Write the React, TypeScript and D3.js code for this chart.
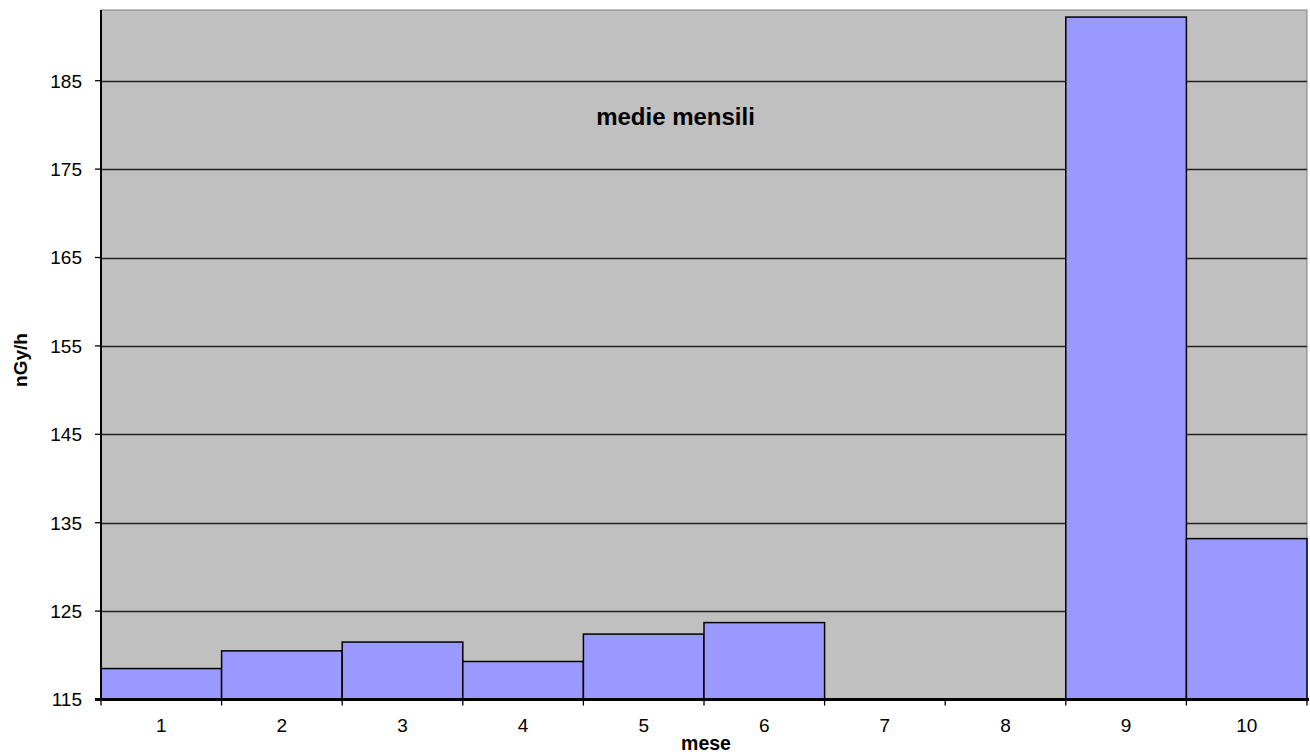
import React from "react";
import * as d3 from "d3";

const months: string[] = ["1", "2", "3", "4", "5", "6", "7", "8", "9", "10"];
const values: (number | null)[] = [118.5, 120.5, 121.5, 119.3, 122.4, 123.7, null, null, 192.2, 133.2];
const yTicks: number[] = [115, 125, 135, 145, 155, 165, 175, 185];
const title = "medie mensili";
const xTitle = "mese";
const yTitle = "nGy/h";

const W = 1310;
const H = 756;
const left = 101;
const right = 1307;
const top = 10;
const bottom = 699.5;

export default function App() {
  const x = d3.scaleBand<string>().domain(months).range([left, right]).padding(0);
  const y = d3.scaleLinear().domain([115, 193]).range([bottom, top]);
  const font = "'Liberation Sans', Arial, Helvetica, sans-serif";
  const bw = x.bandwidth();
  const boundaries = months.map((m) => x(m) as number).concat([right]);

  return (
    <svg width={W} height={H} style={{ position: "absolute", left: 0, top: 0, background: "#fff" }}>
      <rect x={left} y={top} width={right - left} height={bottom - top} fill="#C0C0C0" stroke="#808080" strokeWidth={1} />
      {yTicks.filter((t) => t !== 115).map((t) => (
        <line key={"g" + t} x1={left} x2={right} y1={Math.round(y(t)) + 0.5} y2={Math.round(y(t)) + 0.5} stroke="#222" strokeWidth={1.3} />
      ))}
      {values.map((v, i) =>
        v == null ? null : (
          <rect
            key={"b" + i}
            x={x(months[i]) as number}
            y={y(v)}
            width={bw}
            height={bottom - y(v)}
            fill="#9999FF"
            stroke="#000"
            strokeWidth={1.5}
          />
        )
      )}
      {/* y axis */}
      <line x1={left} x2={left} y1={top} y2={bottom + 1} stroke="#000" strokeWidth={2} />
      {yTicks.map((t) => (
        <g key={"yt" + t}>
          <line x1={left - 6} x2={left} y1={y(t)} y2={y(t)} stroke="#000" strokeWidth={1.3} />
          <text x={82} y={y(t)} dy="0.36em" textAnchor="end" fontFamily={font} fontSize={19} fill="#000">
            {t}
          </text>
        </g>
      ))}
      {/* x axis */}
      <line x1={left - 6} x2={right + 2} y1={bottom} y2={bottom} stroke="#000" strokeWidth={3} />
      {boundaries.map((b, i) => (
        <line key={"xt" + i} x1={b} x2={b} y1={bottom} y2={bottom + 6} stroke="#000" strokeWidth={1.3} />
      ))}
      {months.map((m) => (
        <text key={"xl" + m} x={(x(m) as number) + bw / 2} y={731.5} textAnchor="middle" fontFamily={font} fontSize={19} fill="#000">
          {m}
        </text>
      ))}
      <text x={706} y={750} textAnchor="middle" fontFamily={font} fontSize={19.5} fontWeight="bold" fill="#000">
        {xTitle}
      </text>
      <text
        transform={`translate(27,360) rotate(-90)`}
        textAnchor="middle"
        fontFamily={font}
        fontSize={19}
        fontWeight="bold"
        fill="#000"
      >
        {yTitle}
      </text>
      <text x={675.5} y={124.5} textAnchor="middle" fontFamily={font} fontSize={24} fontWeight="bold" fill="#000">
        {title}
      </text>
    </svg>
  );
}
